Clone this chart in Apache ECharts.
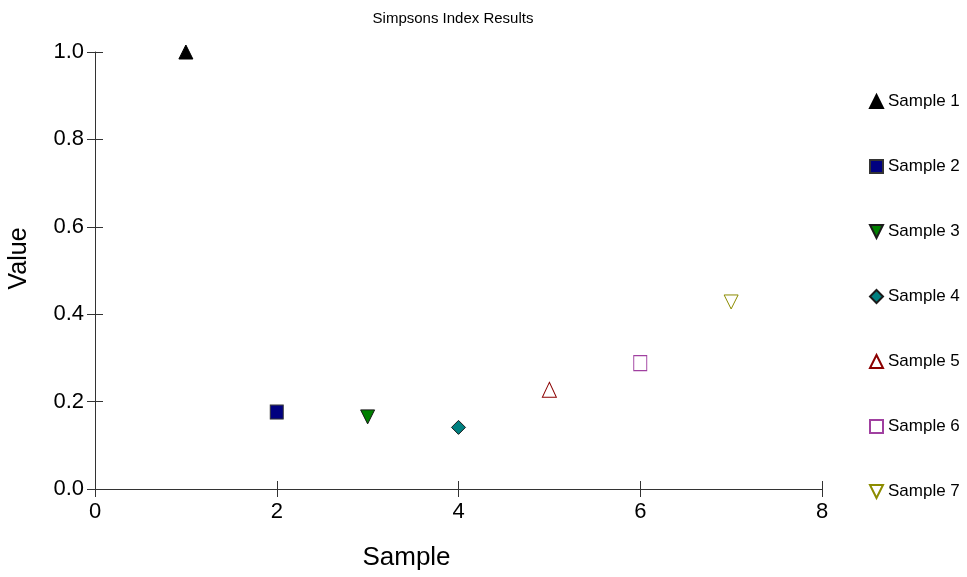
<!DOCTYPE html>
<html lang="en">
<head>
    <meta charset="utf-8">
    <script src="https://cdn.jsdelivr.net/npm/echarts@6/dist/echarts.min.js"></script>
    <title>Simpsons Index Results</title>
    <style>
        html, body { margin: 0; padding: 0; background: #fff; }
        #main { width: 967px; height: 577px; }
    </style>
</head>
<body>
<div id="main"></div>
<script>
    // values
    var names = ['Sample 1', 'Sample 2', 'Sample 3', 'Sample 4', 'Sample 5', 'Sample 6', 'Sample 7'];
    var xVals = [1, 2, 3, 4, 5, 6, 7];
    var yVals = [1.0, 0.176, 0.165, 0.141, 0.227, 0.288, 0.428];

    var downTri = 'path://M0,0 L10,0 L5,10 Z';
    var symbols = ['triangle', 'rect', downTri, 'diamond', 'triangle', 'rect', downTri];
    var fills = ['#000000', '#000080', '#008000', '#008080', '#ffffff', '#ffffff', '#ffffff'];
    var strokes = ['#000000', '#333333', '#1a1a1a', '#1a1a1a', '#8b0000', '#a040a0', '#8c8c00'];
    var sizes = [[14, 14], [13, 14], [14, 14], [14, 14], [14, 15], [13, 15], [14, 14]];

    var font = 'Liberation Sans, Arial, sans-serif';
    var chart = echarts.init(document.getElementById('main'));

    var series = names.map(function (name, i) {
        return {
            name: name,
            type: 'scatter',
            symbol: symbols[i],
            symbolSize: sizes[i],
            itemStyle: {
                color: fills[i],
                borderColor: strokes[i],
                borderWidth: 1,
                opacity: 1
            },
            data: [[xVals[i], yVals[i]]]
        };
    });

    var tickInside = {
        show: true, inside: true, length: 8,
        lineStyle: { color: '#333', width: 1 }
    };

    chart.setOption({
        animation: false,
        backgroundColor: '#fff',
        title: {
            text: 'Simpsons Index Results',
            left: 448,
            textAlign: 'center',
            top: 6,
            textStyle: { fontFamily: font, fontSize: 15, fontWeight: 'normal', color: '#000' }
        },
        legend: {
            orient: 'vertical',
            left: 869,
            top: 93,
            padding: 0,
            itemWidth: 13,
            itemHeight: 13,
            itemGap: 48,
            textStyle: { fontFamily: font, fontSize: 17, color: '#000' },
            data: names
        },
        grid: { left: 95, right: 145, top: 52, bottom: 88, outerBoundsMode: 'none' },
        xAxis: [{
            type: 'value',
            min: 0, max: 8, interval: 2,
            name: 'Sample',
            nameLocation: 'middle',
            nameGap: 56,
            nameTextStyle: { fontFamily: font, fontSize: 26, color: '#000', padding: [0, 104, 0, 0] },
            splitLine: { show: false },
            axisLine: { show: true, lineStyle: { color: '#333', width: 1 } },
            axisTick: { show: true, length: 8, lineStyle: { color: '#333', width: 1 } },
            axisLabel: { fontFamily: font, fontSize: 22, color: '#000', margin: 12 }
        }, {
            type: 'value',
            min: 0, max: 8, interval: 2,
            position: 'bottom',
            splitLine: { show: false },
            axisLine: { show: false },
            axisTick: tickInside,
            axisLabel: { show: false }
        }],
        yAxis: [{
            type: 'value',
            min: 0, max: 1, interval: 0.2,
            name: 'Value',
            nameLocation: 'middle',
            nameGap: 63,
            nameTextStyle: { fontFamily: font, fontSize: 25, color: '#000', padding: [0, 0, 0, 24] },
            splitLine: { show: false },
            axisLine: { show: true, lineStyle: { color: '#333', width: 1 } },
            axisTick: { show: true, length: 8, lineStyle: { color: '#333', width: 1 } },
            axisLabel: {
                fontFamily: font, fontSize: 22, color: '#000', margin: 11,
                formatter: function (v) { return v.toFixed(1); }
            }
        }, {
            type: 'value',
            min: 0, max: 1, interval: 0.2,
            position: 'left',
            splitLine: { show: false },
            axisLine: { show: false },
            axisTick: tickInside,
            axisLabel: { show: false }
        }],
        series: series
    });
</script>
</body>
</html>
